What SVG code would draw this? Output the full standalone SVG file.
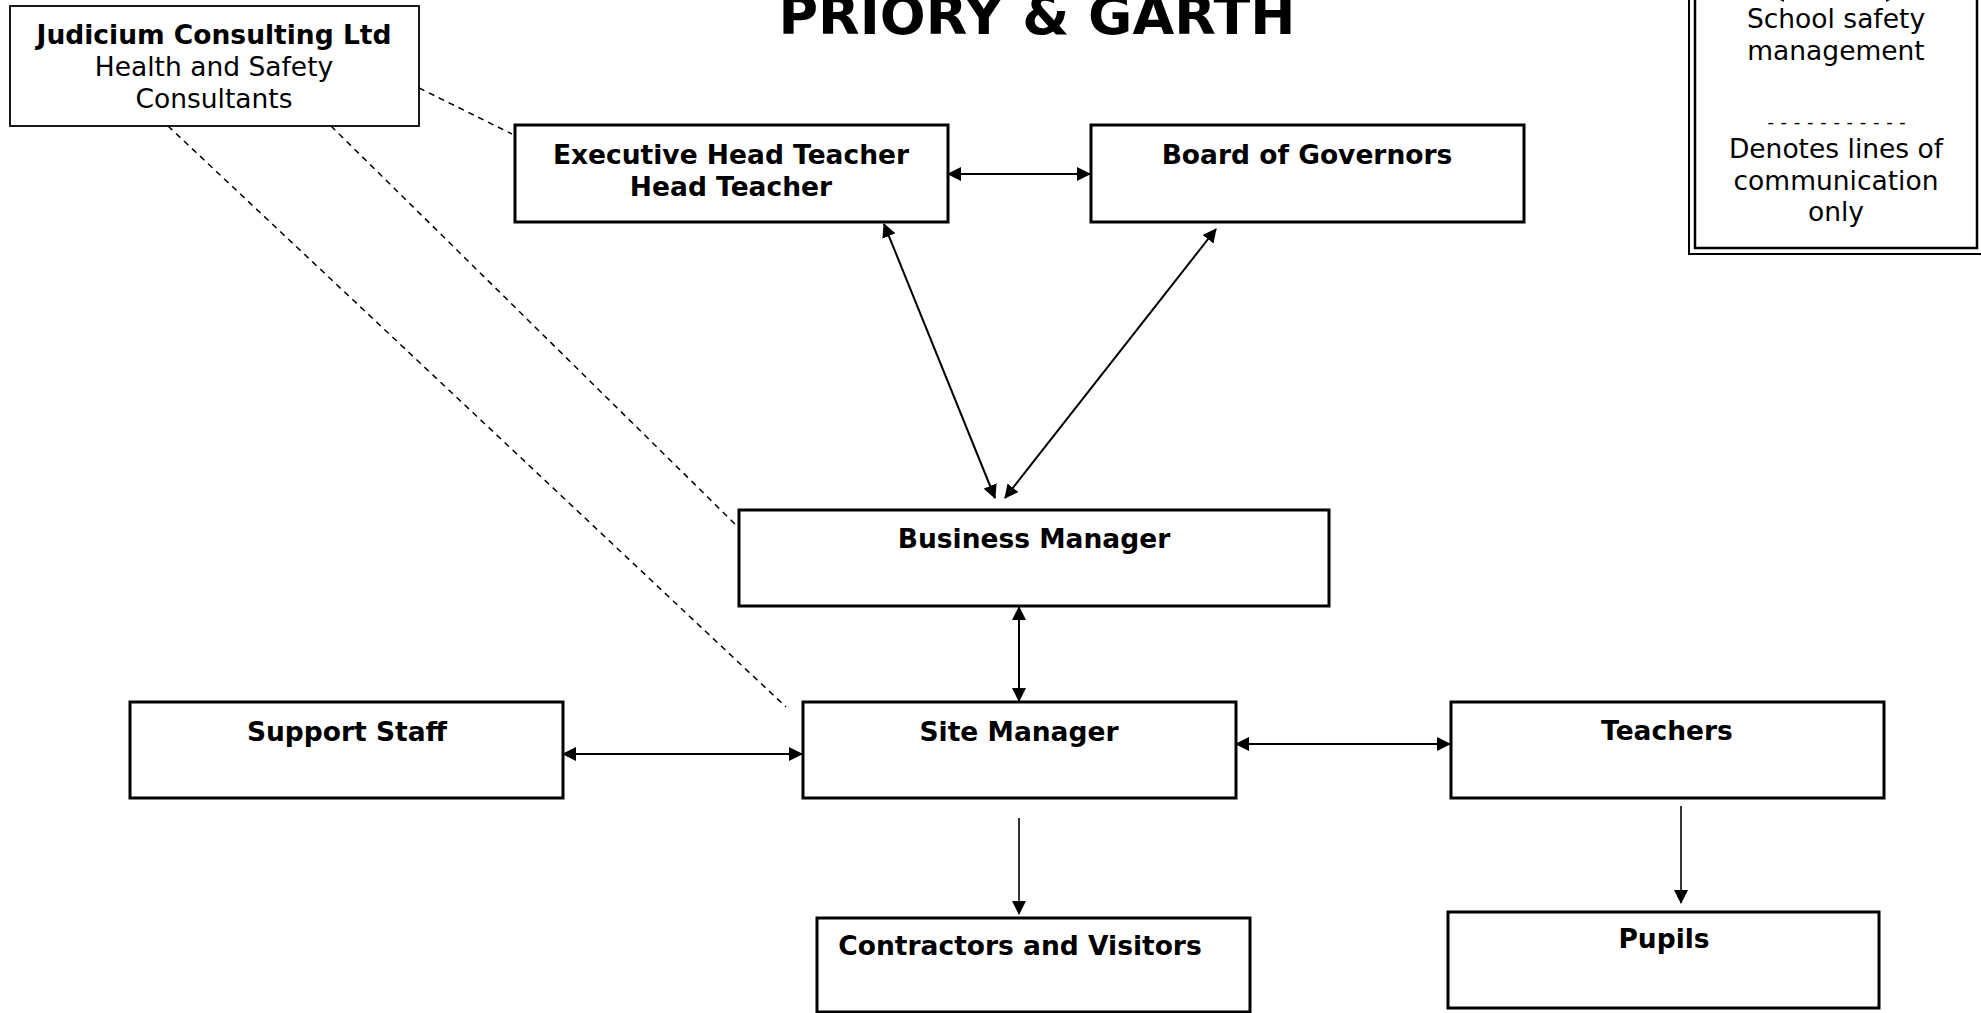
<svg xmlns="http://www.w3.org/2000/svg" width="1981" height="1013" viewBox="0 0 1981 1013">
<style>
text{font-family:"DejaVu Sans",Verdana,sans-serif;font-size:26.5px;fill:#000;text-anchor:middle}
.b{font-weight:bold}
.title{font-size:54px;font-weight:bold}
.dash{font-size:18px;letter-spacing:6.7px}
.box{fill:#fff;stroke:#000;stroke-width:3}
.thin{fill:#fff;stroke:#000;stroke-width:1.8}
.c{stroke:#000;stroke-width:2;fill:none}
.c1{stroke:#000;stroke-width:1.6;fill:none}
.d{stroke:#000;stroke-width:1.5;stroke-dasharray:6 5;fill:none}
</style>
<defs>
<marker id="ah" viewBox="0 0 14 14" refX="13" refY="7" markerWidth="14" markerHeight="14" markerUnits="userSpaceOnUse" orient="auto-start-reverse">
<path d="M0,0 L14,7 L0,14 z" fill="#000"/>
</marker>
</defs>
<rect width="1981" height="1013" fill="#fff"/>
<text class="title" x="1037" y="34">PRIORY &amp; GARTH</text>

<g id="connectors">
<line class="d" x1="419" y1="88" x2="512" y2="134"/>
<line class="d" x1="331" y1="126" x2="735" y2="524"/>
<line class="d" x1="168" y1="126" x2="786" y2="707"/>
<line class="c" x1="948" y1="174" x2="1090" y2="174" marker-start="url(#ah)" marker-end="url(#ah)"/>
<line class="c" x1="884" y1="224" x2="995" y2="498" marker-start="url(#ah)" marker-end="url(#ah)"/>
<line class="c" x1="1216" y1="229" x2="1005" y2="498" marker-start="url(#ah)" marker-end="url(#ah)"/>
<line class="c" x1="1019" y1="607" x2="1019" y2="701" marker-start="url(#ah)" marker-end="url(#ah)"/>
<line class="c" x1="563" y1="754" x2="802" y2="754" marker-start="url(#ah)" marker-end="url(#ah)"/>
<line class="c" x1="1236" y1="744" x2="1450" y2="744" marker-start="url(#ah)" marker-end="url(#ah)"/>
<line class="c1" x1="1019" y1="818" x2="1019" y2="914" marker-end="url(#ah)"/>
<line class="c1" x1="1681" y1="806" x2="1681" y2="903" marker-end="url(#ah)"/>
</g>

<g id="judicium">
<rect class="thin" x="10" y="6" width="409" height="120"/>
<text class="b" x="214" y="44">Judicium Consulting Ltd</text>
<text x="214" y="76">Health and Safety</text>
<text x="214" y="108">Consultants</text>
</g>
<g id="exec-head">
<rect class="box" x="515" y="125" width="433" height="97"/>
<text class="b" x="731" y="164">Executive Head Teacher</text>
<text class="b" x="731" y="196">Head Teacher</text>
</g>
<g id="governors">
<rect class="box" x="1091" y="125" width="433" height="97"/>
<text class="b" x="1307" y="164">Board of Governors</text>
</g>
<g id="business-manager">
<rect class="box" x="739" y="510" width="590" height="96"/>
<text class="b" x="1034" y="548">Business Manager</text>
</g>
<g id="site-manager">
<rect class="box" x="803" y="702" width="433" height="96"/>
<text class="b" x="1019" y="741">Site Manager</text>
</g>
<g id="support-staff">
<rect class="box" x="130" y="702" width="433" height="96"/>
<text class="b" x="347" y="741">Support Staff</text>
</g>
<g id="teachers">
<rect class="box" x="1451" y="702" width="433" height="96"/>
<text class="b" x="1667" y="740">Teachers</text>
</g>
<g id="contractors">
<rect class="box" x="817" y="918" width="433" height="94"/>
<text class="b" x="1020" y="955">Contractors and Visitors</text>
</g>
<g id="pupils">
<rect class="box" x="1448" y="912" width="431" height="96"/>
<text class="b" x="1664" y="948">Pupils</text>
</g>
<g id="legend">
<rect x="1689" y="-20" width="300" height="274" fill="#fff" stroke="#000" stroke-width="2"/>
<rect x="1695" y="-20" width="282" height="268" fill="none" stroke="#000" stroke-width="2.5"/>
<line class="c" x1="1771" y1="-5" x2="1899" y2="-5" marker-start="url(#ah)" marker-end="url(#ah)"/>
<text x="1836" y="28">School safety</text>
<text x="1836" y="60">management</text>
<text class="dash" x="1840" y="128">-----------</text>
<text x="1836" y="158">Denotes lines of</text>
<text x="1836" y="190">communication</text>
<text x="1836" y="221">only</text>
</g>
</svg>
